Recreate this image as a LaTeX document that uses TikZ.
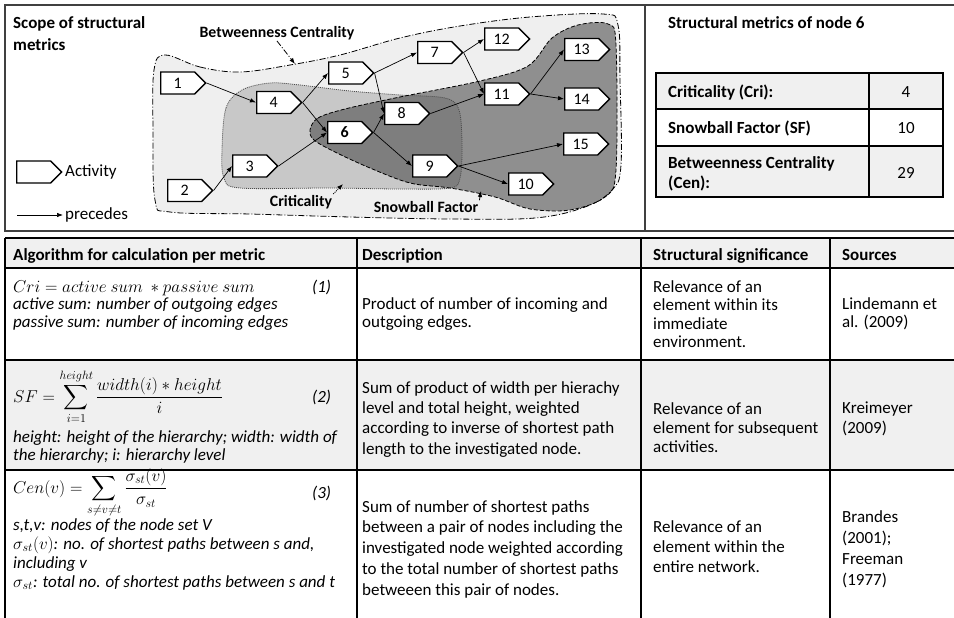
\documentclass[tikz,border=0pt]{standalone}
\usepackage{fix-cm}
\usepackage{amsmath}
\usepackage{fontspec}
\setmainfont{Carlito}
\usetikzlibrary{shapes.symbols,arrows.meta}
\definecolor{bcfill}{HTML}{EFEFEF}
\definecolor{crfill}{HTML}{C8C8C8}
\definecolor{sffill}{HTML}{8F8F8F}
\definecolor{ovfill}{HTML}{7E7E7E}
\definecolor{rowfill}{HTML}{F0F0F0}
\definecolor{panelline}{HTML}{404040}
\tikzset{
  act/.style={signal, signal to=east, signal from=nowhere, draw=black, line width=1.3pt, fill=white,
    minimum width=45pt, minimum height=22pt, inner sep=0pt, anchor=west, font=\fontsize{16}{18}\selectfont},
  edge/.style={-{Latex[length=6pt,width=4.5pt]}, line width=0.7pt, black},
  txt/.style={inner sep=0pt, align=left},
  bcline/.style={line width=0.8pt, dash pattern=on 6pt off 2pt on 1pt off 2pt},
  crline/.style={line width=0.8pt, dash pattern=on 1pt off 1pt, black!70},
  sfline/.style={line width=0.8pt, dash pattern=on 4pt off 2pt},
  tline/.style={line width=1.3pt, black},
  pline/.style={line width=1.6pt, panelline},
  rlabel/.style={inner sep=1pt, font=\fontsize{15.8}{18}\selectfont\bfseries},
  formula/.style={inner sep=0pt, anchor=base west, font=\fontsize{17.2}{20}\selectfont},
  eqno/.style={inner sep=0pt, anchor=base west, font=\fontsize{17}{20}\selectfont\itshape},
}
% name, x, first baseline, baselineskip, font extra, text
\newcommand{\mycell}[6]{\node[txt, anchor=north west, font={\fontsize{17}{#4}\selectfont#5}] (#1) at ({#2},{#3-0.72*#4}) {\rule{0pt}{0.72\baselineskip}#6};}
\begin{document}
\begin{tikzpicture}[x=1pt,y=-1pt]
\useasboundingbox (0,0) rectangle (954,618);
\fill[white] (0,0) rectangle (954,618);

% ---------- regions ----------
\def\bcpath{plot[smooth cycle, tension=0.6] coordinates {(165,55) (200,67) (240,72) (290,65) (340,55) (400,38) (460,26) (530,17) (603,14) (618,25) (620,80) (621,165) (612,190) (585,207) (535,218) (450,219) (350,217) (250,214) (170,212) (155,200) (153,130) (154,70)}}
\def\crpath{plot[smooth cycle, tension=0.55] coordinates {(222,150) (226,108) (242,90) (270,83) (300,85) (350,91) (400,95) (445,98) (459,110) (462,145) (460,178) (450,188) (400,189) (330,188) (240,188) (224,178)}}
\def\sfpath{plot[smooth cycle, tension=0.55] coordinates {(310,130) (318,118) (345,109) (400,97) (480,81) (528,66) (552,38) (578,25) (608,24) (616,45) (616,170) (605,197) (570,210) (530,209) (495,197) (450,188) (410,183) (370,168) (335,152) (314,140)}}
\fill[bcfill] \bcpath;
\fill[crfill] \crpath;
\fill[sffill] \sfpath;
\begin{scope}
  \clip \crpath;
  \fill[ovfill] \sfpath;
\end{scope}
\draw[bcline] \bcpath;
\draw[crline] \crpath;
\draw[sfline] \sfpath;

% ---------- panel frames ----------
\draw[pline] (954,5) -- (5,5) -- (5,231) -- (954,231);
\draw[pline] (645,5) -- (645,231);

% ---------- titles ----------
\mycell{scope}{13}{28}{22}{\bfseries}{Scope of structural\\metrics}
\mycell{smtitle}{668}{28}{20}{\bfseries}{Structural metrics of node 6}

% ---------- activities ----------
\node[act] (n1) at (160,83) {1};
\node[act] (n2) at (167,190.5) {2};
\node[act] (n3) at (232,166) {3};
\node[act] (n4) at (256,102.5) {4};
\node[act] (n5) at (328,73) {5};
\node[act] (n6) at (327,132.5) {\bfseries 6};
\node[act] (n7) at (417,52.5) {7};
\node[act] (n8) at (384,113.5) {8};
\node[act] (n9) at (412,166) {9};
\node[act] (n10) at (508,184) {10};
\node[act] (n11) at (484,94) {11};
\node[act] (n12) at (484,39) {12};
\node[act] (n13) at (564,49.5) {13};
\node[act] (n14) at (564,99) {14};
\node[act] (n15) at (563,144) {15};

\draw[edge] (n1.east) -- (n4.west);
\draw[edge] (n2.east) -- (n3.west);
\draw[edge] (n3.east) -- (n6.west);
\draw[edge] (n4.east) -- (n5.west);
\draw[edge] (n4.east) -- (n6.west);
\draw[edge] (n5.east) -- (n7.west);
\draw[edge] (n5.east) -- (n8.west);
\draw[edge] (n6.east) -- (n8.west);
\draw[edge] (n6.east) -- (n9.west);
\draw[edge] (n7.east) -- (n12.west);
\draw[edge] (n7.east) -- (n11.west);
\draw[edge] (n8.east) -- (n11.west);
\draw[edge] (n11.east) -- (n13.west);
\draw[edge] (n11.east) -- (n14.west);
\draw[edge] (n9.east) -- (n15.west);
\draw[edge] (n9.east) -- (n10.west);

% ---------- region labels ----------
\node[rlabel] (bclabel) at (277,33) {Betweenness Centrality};
\coordinate (bcpt) at (295,64);
\draw[bcline, -{Latex[length=6pt,width=4.5pt]}] (bclabel.south) -- (bcpt);
\node[rlabel] (crlabel) at (301,202) {Criticality};
\coordinate (crpt) at (343,184);
\draw[crline, black, -{Latex[length=6pt,width=4.5pt]}] (crlabel.north east) -- (crpt);
\node[rlabel] (sflabel) at (426,207) {Snowball Factor};
\coordinate (sfpt) at (481,191);
\draw[sfline, -{Latex[length=6pt,width=4.5pt]}] (sflabel.north east) -- (sfpt);

% ---------- legend ----------
\node[act] (legact) at (16,172) {};
\node[txt, anchor=west, font=\fontsize{17}{20}\selectfont] (legacttxt) at (65,172) {Activity};
\node[txt, anchor=west, font=\fontsize{17}{20}\selectfont] (legprec) at (65,215) {precedes};
\coordinate (legA) at (17,215);
\draw[edge] (legA) -- ([xshift=-2pt]legprec.west);

% ---------- structural metrics table ----------
\fill[rowfill] (656,73) rectangle (943,109);
\fill[rowfill] (656,146) rectangle (943,197);
\draw[tline] (656,73) rectangle (943,197);
\draw[tline] (656,109) -- (943,109);
\draw[tline] (656,146) -- (943,146);
\draw[tline] (869,73) -- (869,197);
\mycell{m1}{668}{97}{20}{\bfseries}{Criticality (Cri):}
\mycell{m2}{668}{133}{20}{\bfseries}{Snowball Factor (SF)}
\mycell{m3}{668}{168}{20}{\bfseries}{Betweenness Centrality\\(Cen):}
\node[inner sep=0pt, font=\fontsize{17}{20}\selectfont] (v1) at (906,92) {4};
\node[inner sep=0pt, font=\fontsize{17}{20}\selectfont] (v2) at (906,128) {10};
\node[inner sep=0pt, font=\fontsize{17}{20}\selectfont] (v3) at (906,173) {29};

% ---------- bottom table ----------
\fill[rowfill] (5,238) rectangle (954,268);
\fill[rowfill] (5,360) rectangle (954,470);
\draw[tline] (5,238) -- (954,238);
\draw[tline] (5,268) -- (954,268);
\draw[tline] (5,360) -- (954,360);
\draw[tline] (5,470) -- (954,470);
\draw[tline] (5,238) -- (5,618);
\draw[tline] (357,238) -- (357,618);
\draw[tline] (641,238) -- (641,618);
\draw[tline] (830,238) -- (830,618);

\mycell{h1}{13}{260}{18}{\bfseries}{Algorithm for calculation per metric}
\mycell{h2}{362}{260}{18}{\bfseries}{Description}
\mycell{h3}{653}{260}{18}{\bfseries}{Structural significance}
\mycell{h4}{842}{260}{18}{\bfseries}{Sources}

% row 1
\node[formula] (f1) at (13,292) {$Cri = active\ sum\ \ast passive\ sum$};
\node[eqno] (e1) at (312,292) {(1)};
\mycell{c1}{13}{309}{18}{\itshape}{active sum: number of outgoing edges\\passive sum: number of incoming edges}
\mycell{d1}{362}{309}{18}{}{Product of number of incoming and\\outgoing edges.}
\mycell{s1}{653}{292}{18.5}{}{Relevance of an\\element within its\\immediate\\environment.}
\mycell{r1}{842}{309}{18}{}{Lindemann et\\al. (2009)}

% row 2
\node[formula] (f2) at (13,402) {$SF = \displaystyle\sum_{i=1}^{height} \frac{width(i) \ast height}{i}$};
\node[eqno] (e2) at (312,402) {(2)};
\mycell{c2}{13}{442}{18}{\itshape}{height: height of the hierarchy; width: width of\\the hierarchy; i: hierarchy level}
\mycell{d2}{362}{393}{20.3}{}{Sum of product of width per hierachy\\level and total height, weighted\\according to inverse of shortest path\\length to the investigated node.}
\mycell{s2}{653}{414}{19}{}{Relevance of an\\element for subsequent\\activities.}
\mycell{r2}{842}{413}{20}{}{Kreimeyer\\(2009)}

% row 3
\node[formula] (f3) at (13,493) {$Cen(v) = \displaystyle\sum_{s\neq v\neq t} \frac{\sigma_{st}(v)}{\sigma_{st}}$};
\node[eqno] (e3) at (312,498) {(3)};
\mycell{c3}{13}{530}{19}{\itshape}{s,t,v: nodes of the node set V\\$\sigma_{st}(v)$: no. of shortest paths between s and,\\including v\\$\sigma_{st}$: total no. of shortest paths between s and t}
\mycell{d3}{362}{512}{20.7}{}{Sum of number of shortest paths\\between a pair of nodes including the\\investigated node weighted according\\to the total number of shortest paths\\betweeen this pair of nodes.}
\mycell{s3}{653}{532}{20}{}{Relevance of an\\element within the\\entire network.}
\mycell{r3}{842}{522}{21}{}{Brandes\\(2001);\\Freeman\\(1977)}
\end{tikzpicture}
\end{document}
